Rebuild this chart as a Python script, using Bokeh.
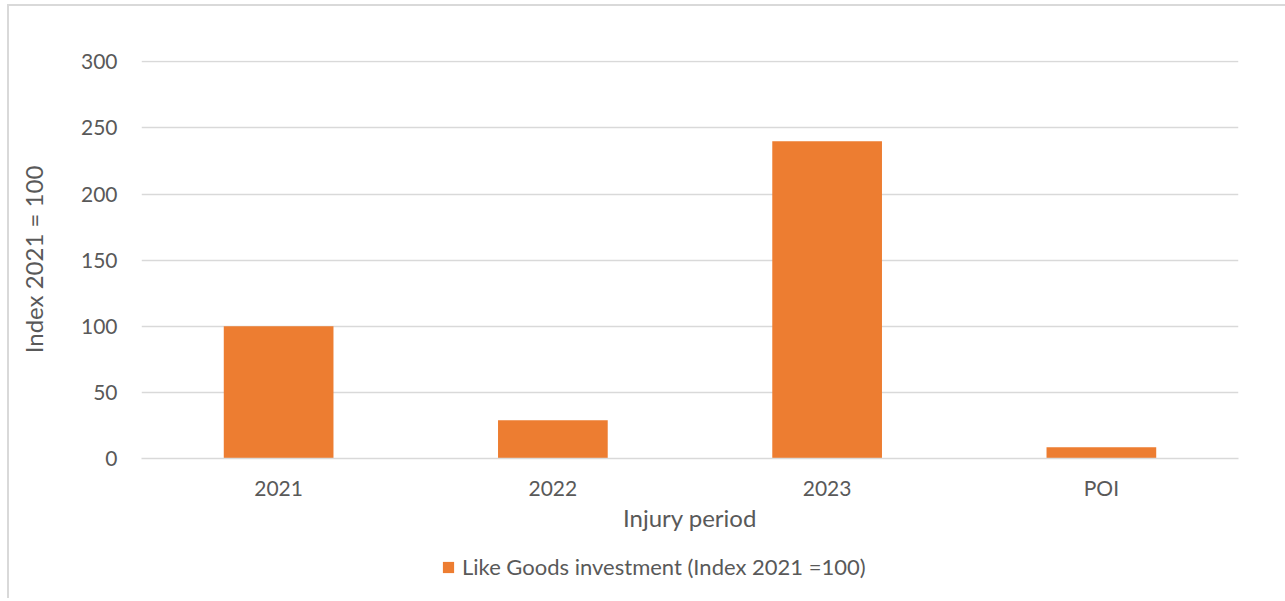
from bokeh.plotting import figure
from bokeh.layouts import column
from bokeh.models import ColumnDataSource, Legend, LegendItem, Range1d, FixedTicker
from bokeh.embed import file_html
from bokeh.resources import INLINE

categories = ["2021", "2022", "2023", "POI"]
values = [100, 29, 240, 8.5]
series_name = "Like Goods investment (Index 2021 =100)"
y_ticks = [0, 50, 100, 150, 200, 250, 300]

FONT = "Lato"
TXT = "#595959"
GRID = "#d9d9d9"
BAR = "#ED7D31"

src = ColumnDataSource(dict(cat=categories, val=values))

p = figure(x_range=categories, y_range=Range1d(0, 301), width=1276, height=534,
           output_backend="svg", toolbar_location=None,
           min_border_left=132, min_border_right=47, min_border_top=54, min_border_bottom=82)

r = p.vbar(x="cat", top="val", width=0.4, source=src, fill_color=BAR, line_color=None)

p.outline_line_color = None
p.background_fill_color = "white"
p.border_fill_color = "white"

p.xgrid.grid_line_color = None
p.ygrid.grid_line_color = GRID
p.ygrid.grid_line_width = 1.5
p.yaxis.ticker = FixedTicker(ticks=y_ticks)

for ax in (p.xaxis[0], p.yaxis[0]):
    ax.major_tick_line_color = None
    ax.minor_tick_line_color = None
    ax.major_label_text_font = FONT
    ax.major_label_text_font_size = "21px"
    ax.major_label_text_color = TXT
    ax.axis_label_text_font = FONT
    ax.axis_label_text_font_size = "24px"
    ax.axis_label_text_color = TXT
    ax.axis_label_text_font_style = "normal"

p.yaxis.axis_line_color = None
p.xaxis.axis_line_color = GRID
p.xaxis.axis_line_width = 1.5
p.yaxis.major_label_standoff = 18
p.xaxis.major_label_standoff = 10
p.yaxis.axis_label = "Index 2021 = 100"
p.xaxis.axis_label = "Injury period"
p.yaxis.axis_label_standoff = 30
p.xaxis.axis_label_standoff = 0

# legend row below the chart
lg = figure(width=1276, height=58, output_backend="svg", toolbar_location=None,
            x_axis_type=None, y_axis_type=None, x_range=Range1d(0, 1), y_range=Range1d(0, 1),
            min_border_left=0, min_border_right=0, min_border_top=0, min_border_bottom=0)
lg.outline_line_color = None
lg.border_fill_color = "white"
lg.background_fill_color = "white"
lr = lg.vbar(x=[0.5], top=[0], width=0.1, fill_color=BAR, line_color=None)

legend = Legend(items=[LegendItem(label=series_name, renderers=[lr])],
                location=(300, 18), orientation="horizontal",
                glyph_width=14, glyph_height=14, label_standoff=7,
                label_text_font=FONT, label_text_font_size="22px", label_text_color=TXT,
                padding=0, margin=0, border_line_color=None, background_fill_alpha=0)
lg.add_layout(legend, "center")

layout = column(p, lg, spacing=0,
                styles={"border-left": "2px solid #d9d9d9", "border-top": "2px solid #d9d9d9",
                        "margin-left": "7px", "margin-top": "4px"})
open("out.html", "w").write(file_html(layout, INLINE))
